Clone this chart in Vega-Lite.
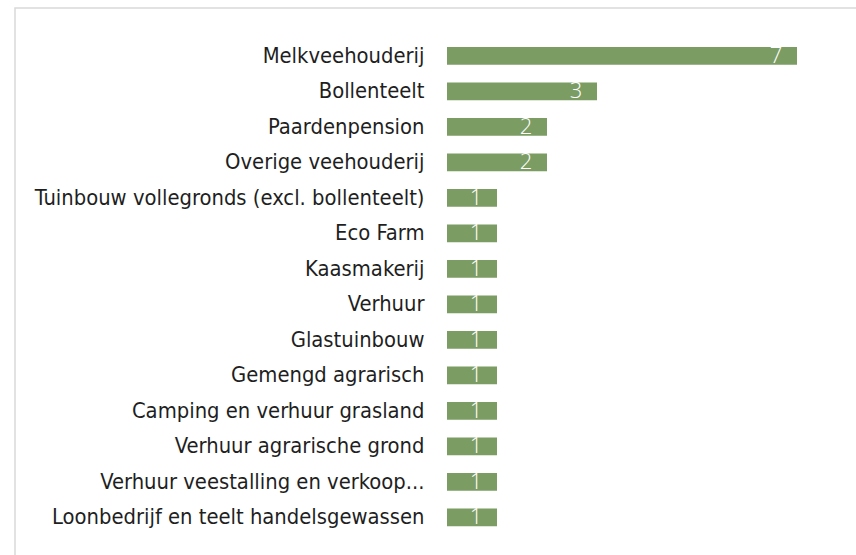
{
  "$schema": "https://vega.github.io/schema/vega-lite/v6.json",
  "autosize": {"type": "none"},
  "padding": {"left": 15, "top": 8, "right": 0, "bottom": 0},
  "width": 900,
  "height": 600,
  "background": "white",
  "config": {
    "view": {"stroke": "#d9d9d9", "strokeWidth": 1.5},
    "font": "DejaVu Sans Condensed"
  },
  "data": {
    "values": [
      {"categorie": "Melkveehouderij", "aantal": 7},
      {"categorie": "Bollenteelt", "aantal": 3},
      {"categorie": "Paardenpension", "aantal": 2},
      {"categorie": "Overige veehouderij", "aantal": 2},
      {"categorie": "Tuinbouw vollegronds (excl. bollenteelt)", "aantal": 1},
      {"categorie": "Eco Farm", "aantal": 1},
      {"categorie": "Kaasmakerij", "aantal": 1},
      {"categorie": "Verhuur", "aantal": 1},
      {"categorie": "Glastuinbouw", "aantal": 1},
      {"categorie": "Gemengd agrarisch", "aantal": 1},
      {"categorie": "Camping en verhuur grasland", "aantal": 1},
      {"categorie": "Verhuur agrarische grond", "aantal": 1},
      {"categorie": "Verhuur veestalling en verkoop...", "aantal": 1},
      {"categorie": "Loonbedrijf en teelt handelsgewassen", "aantal": 1}
    ]
  },
  "encoding": {
    "y": {
      "field": "categorie",
      "type": "nominal",
      "sort": null,
      "scale": {"range": [30, 527], "paddingInner": 0.5, "paddingOuter": 0.25},
      "axis": {
        "title": null,
        "offset": -432,
        "domain": false,
        "ticks": false,
        "labelPadding": 23,
        "labelFont": "DejaVu Sans Condensed",
        "labelFontSize": 21.8,
        "labelColor": "#1f1f1f",
        "labelLimit": 500
      }
    },
    "x": {
      "field": "aantal",
      "type": "quantitative",
      "scale": {"domain": [0, 7], "range": [432, 782], "nice": false, "zero": true},
      "axis": null
    }
  },
  "layer": [
    {"mark": {"type": "bar", "color": "#7b9c63"}},
    {
      "mark": {"type": "text", "align": "center", "baseline": "middle", "dx": -21, "dy": 0, "color": "white", "fontSize": 22, "font": "Open Sans", "fontWeight": 300},
      "encoding": {"text": {"field": "aantal", "type": "quantitative"}}
    }
  ]
}
